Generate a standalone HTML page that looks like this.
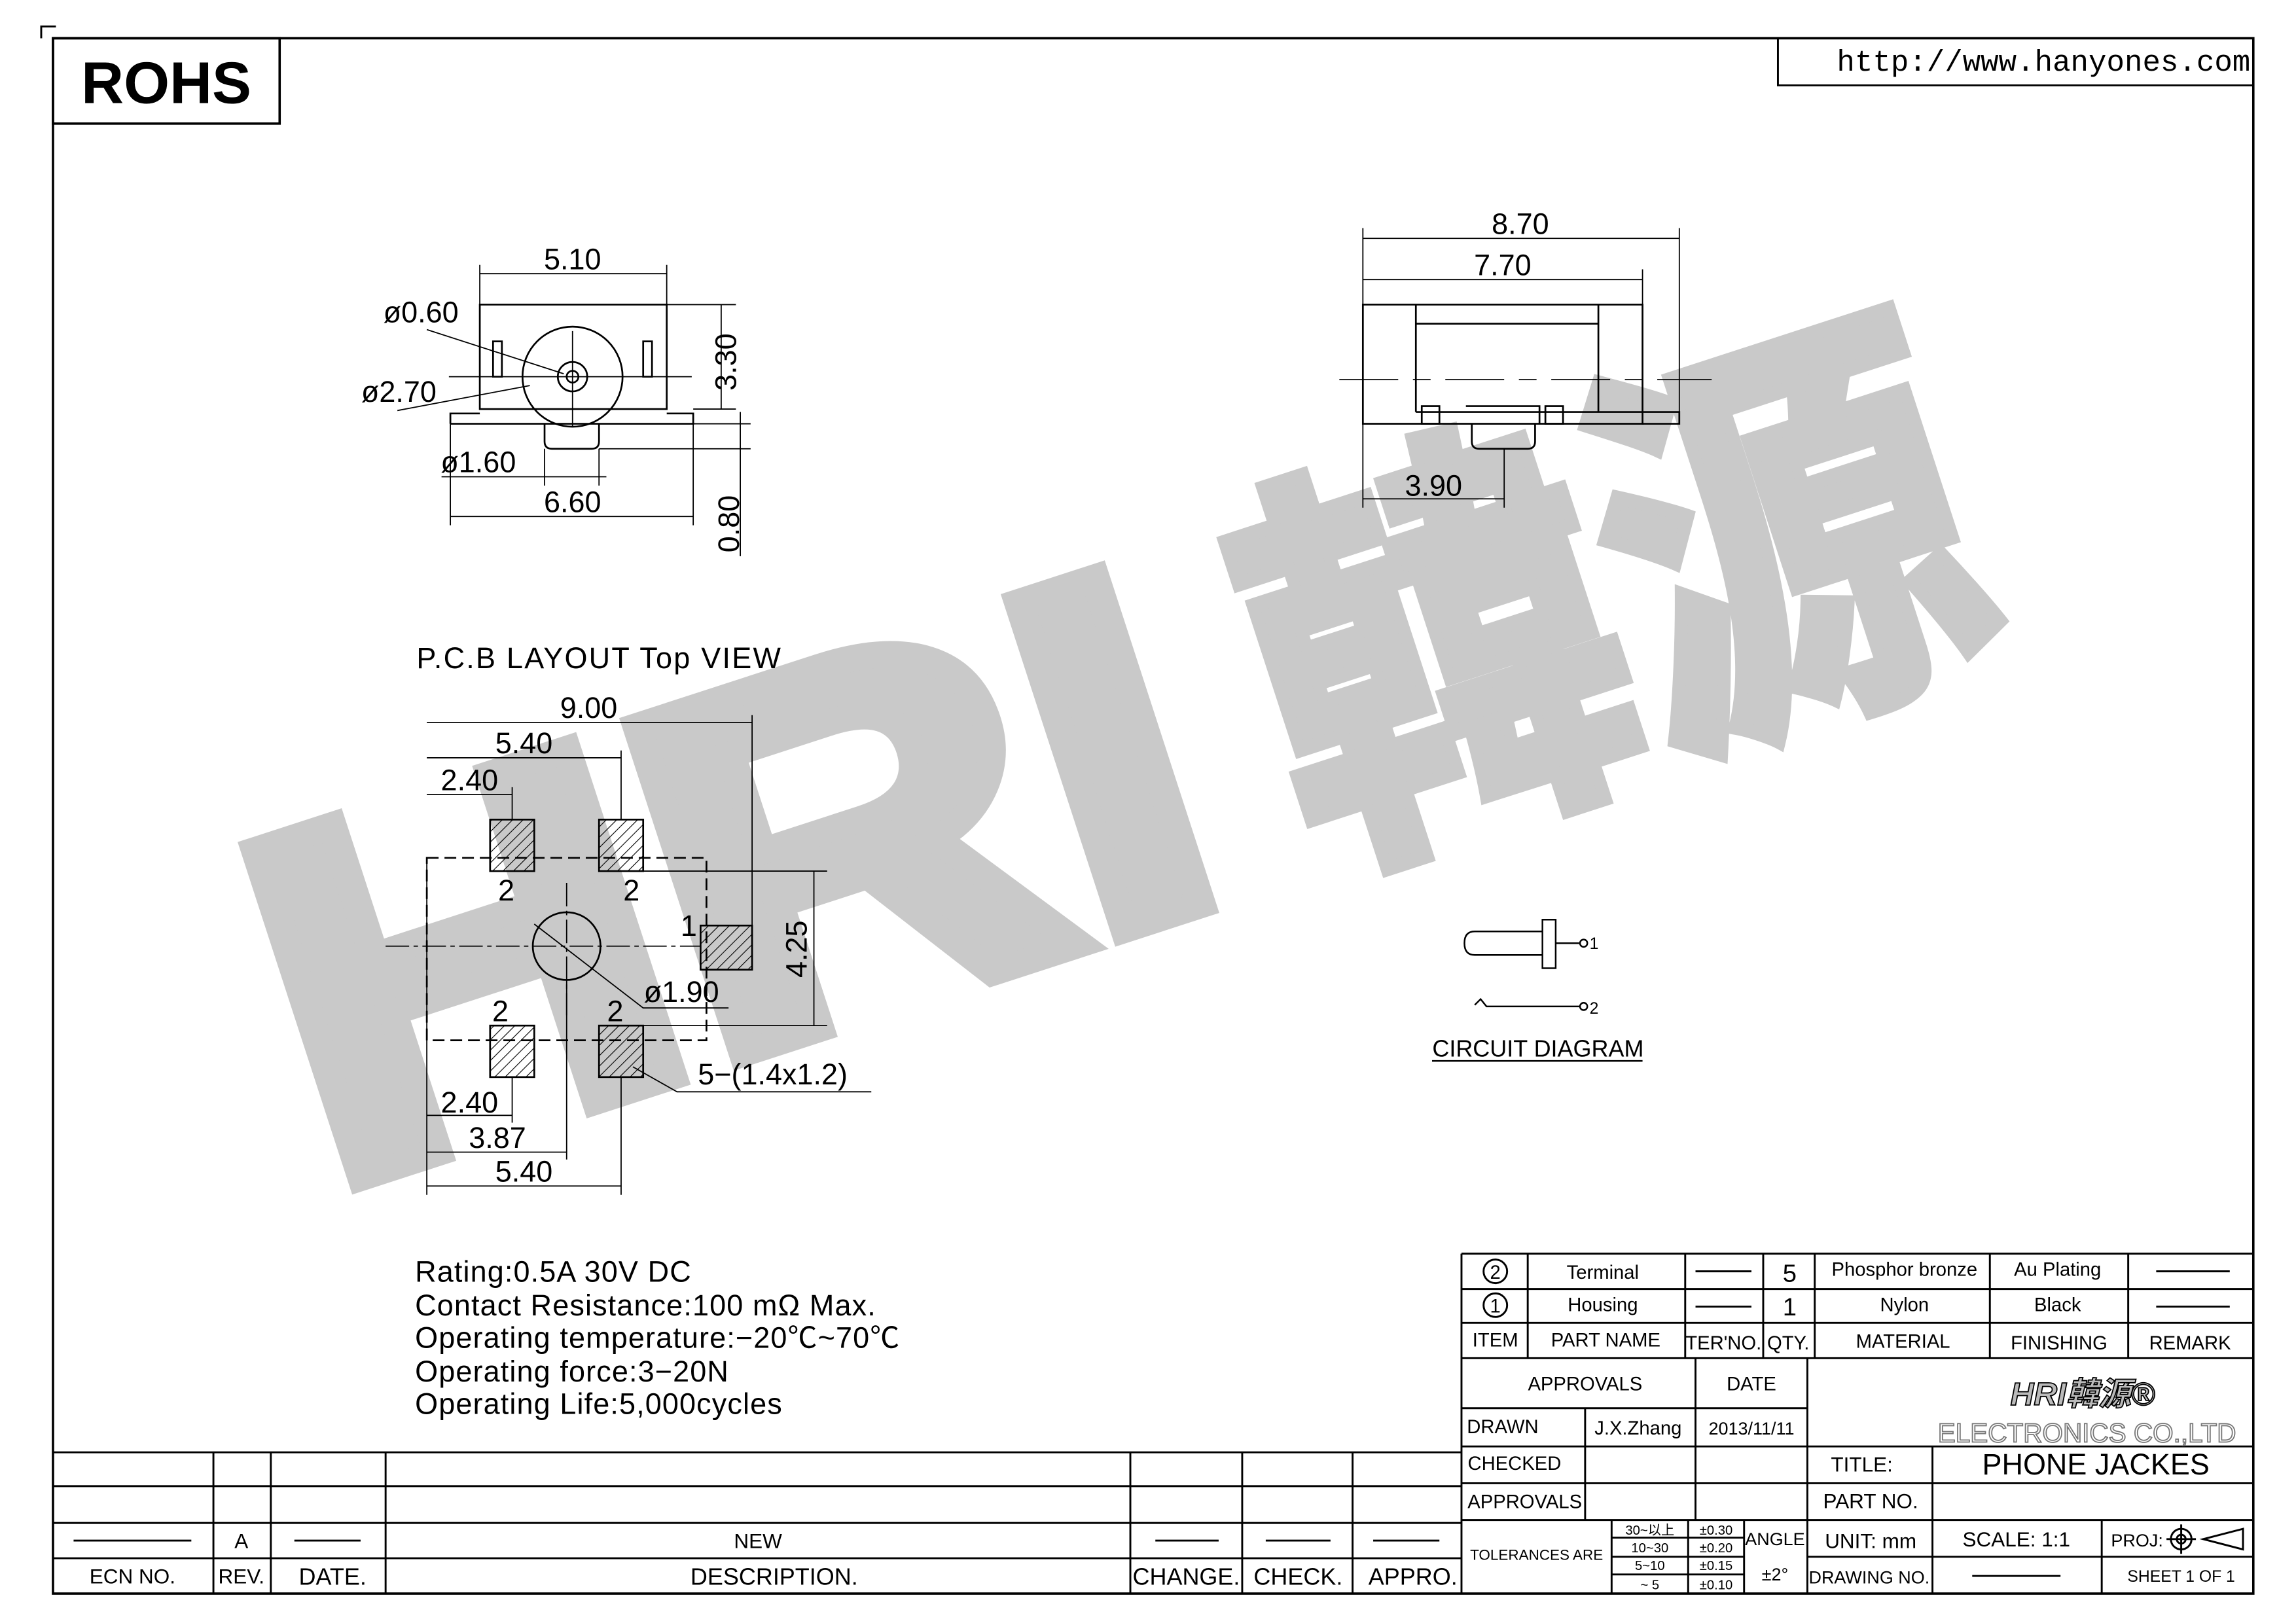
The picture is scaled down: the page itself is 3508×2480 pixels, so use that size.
<!DOCTYPE html>
<html><head><meta charset="utf-8"><style>
html,body{margin:0;padding:0;background:#fff;}
svg{display:block;}
text{font-family:"Liberation Sans","Noto Sans CJK SC",sans-serif;fill:#000;}
</style></head><body>
<svg width="3508" height="2480" viewBox="0 0 1560 1103" preserveAspectRatio="none" xmlns="http://www.w3.org/2000/svg">
<defs>
<pattern id="h" width="5" height="5" patternUnits="userSpaceOnUse" patternTransform="rotate(45)"><line x1="0" y1="0" x2="0" y2="5" stroke="#000" stroke-width="1"/></pattern>
</defs>
<rect width="1560" height="1103" fill="#fff"/>
<!-- watermark -->
<g transform="translate(222,808) rotate(-18)">
<text x="0" y="0" font-size="340" font-weight="bold" style="fill:#c9c9c9;stroke:#c9c9c9;stroke-width:18;stroke-linejoin:miter;font-weight:bold" textLength="650" lengthAdjust="spacingAndGlyphs">HRI</text>
<text x="705" y="-10" font-size="290" font-weight="bold" style="fill:#c9c9c9;stroke:#c9c9c9;stroke-width:10;font-weight:bold" textLength="500" lengthAdjust="spacingAndGlyphs">韓源</text>
</g>
<g fill="none" stroke="#000" stroke-width="1.3">
<path d="M28 26V18H38"/>
<rect x="36" y="26" width="1495" height="1057" stroke-width="1.6"/>
<rect x="36" y="26" width="154" height="58" stroke-width="1.6"/>
<path d="M1208 26V58H1531"/>
</g>
<text x="113" y="70" font-size="40" font-weight="bold" text-anchor="middle">ROHS</text>
<text x="1248" y="48" font-size="20" textLength="281" lengthAdjust="spacingAndGlyphs" style="font-family:'Liberation Mono',monospace">http://www.hanyones.com</text>

<!-- top-left view -->
<g fill="none" stroke="#000" stroke-width="1.2">
<rect x="326" y="207" width="127" height="71"/>
<path d="M306 288V281H326M453 281H471V288H306"/>
<path d="M370 288V300Q370 305 375 305H402Q407 305 407 300V288"/>
<circle cx="389" cy="256" r="34"/><circle cx="389" cy="256" r="10"/><circle cx="389" cy="256" r="4"/>
<rect x="335" y="232" width="6" height="24"/><rect x="437" y="232" width="6" height="24"/>
<path d="M326 207V180M453 207V180M326 186H453" stroke-width="0.8"/>
<path d="M453 207H500M471 278H500M490 207V278" stroke-width="0.8"/>
<path d="M306 288V357M471 288V357M306 351H471" stroke-width="0.8"/>
<path d="M370 305V330M407 305V330M300 324H412" stroke-width="0.8"/>
<path d="M471 288H510M407 305H510M503 280V378" stroke-width="0.8"/>
<path d="M290 224L383 254M270 279L360 262" stroke-width="0.8"/>
<path d="M305 256H470M389 225V290" stroke-width="0.8"/>
</g>
<g font-size="20">
<text x="389" y="183" text-anchor="middle">5.10</text>
<text x="286" y="219" text-anchor="middle">ø0.60</text>
<text x="271" y="273" text-anchor="middle">ø2.70</text>
<text x="325" y="321" text-anchor="middle">ø1.60</text>
<text x="389" y="348" text-anchor="middle">6.60</text>
<text transform="translate(500,246) rotate(-90)" text-anchor="middle">3.30</text>
<text transform="translate(502,356) rotate(-90)" text-anchor="middle">0.80</text>
</g>

<!-- side view -->
<g fill="none" stroke="#000" stroke-width="1.2">
<rect x="926" y="207" width="190" height="81"/>
<path d="M962 207V220H1086V207M962 220V280M1086 220V280"/>
<path d="M962 280H1116M1116 280H1141V288H1116"/>
<rect x="966" y="276" width="12" height="12"/><rect x="1050" y="276" width="12" height="12"/>
<path d="M1000 288V300Q1000 305 1005 305H1038Q1043 305 1043 300V288M996 276H1046V288"/>
<path d="M926 207V155M1141 280V155M926 162H1141M1116 207V183M926 190H1116" stroke-width="0.8"/>
<path d="M926 288V345M1022 305V345M926 339H1022" stroke-width="0.8"/>
<path d="M910 258H1163" stroke-width="0.8" stroke-dasharray="40 10 12 10"/>
</g>
<g font-size="20">
<text x="1033" y="159" text-anchor="middle">8.70</text>
<text x="1021" y="187" text-anchor="middle">7.70</text>
<text x="974" y="337" text-anchor="middle">3.90</text>
</g>

<!-- PCB -->
<text x="283" y="454" font-size="20" letter-spacing="1">P.C.B  LAYOUT  Top  VIEW</text>
<g stroke="#000" stroke-width="1.2">
<rect x="290" y="583" width="190" height="124" fill="none" stroke-dasharray="8 4"/>
<rect x="333" y="557" width="30" height="35" fill="url(#h)"/>
<rect x="407" y="557" width="30" height="35" fill="url(#h)"/>
<rect x="333" y="697" width="30" height="35" fill="url(#h)"/>
<rect x="407" y="697" width="30" height="35" fill="url(#h)"/>
<rect x="476" y="629" width="35" height="30" fill="url(#h)"/>
<circle cx="385" cy="643" r="23" fill="none"/>
<g fill="none" stroke-width="0.8">
<path d="M262 643H476M385 600V690" stroke-dasharray="16 3 3 3"/>
<path d="M290 583V812M511 629V486M290 491H511M422 557V510M290 515H422M348 557V535M290 540H348"/>
<path d="M422 592H562M511 697H562M437 697H511M553 592V697"/>
<path d="M348 732V763M290 758H348M385 666V788M290 783H385M422 732V812M290 806H422"/>
<path d="M363 628L437 685H495M430 725L460 742H592"/>
</g>
</g>
<g font-size="20">
<text x="400" y="488" text-anchor="middle">9.00</text>
<text x="356" y="512" text-anchor="middle">5.40</text>
<text x="319" y="537" text-anchor="middle">2.40</text>
<text transform="translate(548,645) rotate(-90)" text-anchor="middle">4.25</text>
<text x="463" y="681" text-anchor="middle">ø1.90</text>
<text x="525" y="737" text-anchor="middle">5−(1.4x1.2)</text>
<text x="319" y="756" text-anchor="middle">2.40</text>
<text x="338" y="780" text-anchor="middle">3.87</text>
<text x="356" y="803" text-anchor="middle">5.40</text>
<text x="344" y="612" text-anchor="middle">2</text><text x="429" y="612" text-anchor="middle">2</text>
<text x="468" y="636" text-anchor="middle">1</text>
<text x="340" y="694" text-anchor="middle">2</text><text x="418" y="694" text-anchor="middle">2</text>
</g>

<!-- circuit -->
<g fill="none" stroke="#000" stroke-width="1.1">
<path d="M1048 633H1002Q995 633 995 641Q995 649 1002 649H1048"/>
<rect x="1048" y="625" width="9" height="33"/>
<path d="M1057 641H1073"/><circle cx="1076" cy="641" r="2.5"/>
<path d="M1002 683L1006 679L1010 684H1073"/><circle cx="1076" cy="684" r="2.5"/>
<path d="M973 721H1116"/>
</g>
<text x="1080" y="645" font-size="11">1</text><text x="1080" y="689" font-size="11">2</text>
<text x="1045" y="718" font-size="16" text-anchor="middle">CIRCUIT  DIAGRAM</text>

<!-- specs -->
<g font-size="20" letter-spacing="0.5">
<text x="282" y="871">Rating:0.5A  30V  DC</text>
<text x="282" y="894">Contact  Resistance:100  mΩ  Max.</text>
<text x="282" y="916">Operating  temperature:−20℃~70℃</text>
<text x="282" y="939">Operating  force:3−20N</text>
<text x="282" y="961">Operating  Life:5,000cycles</text>
</g>

<!-- revision table -->
<g fill="none" stroke="#000" stroke-width="1.3">
<path d="M36 987H993M36 1010H993M36 1035H993M36 1059H993"/>
<path d="M145 987V1083M184 987V1083M262 987V1083M768 987V1083M844 987V1083M919 987V1083M993 852V1083"/>
<path d="M50 1047H130M200 1047H245M785 1047H828M860 1047H904M933 1047H978"/>
</g>
<g font-size="14" text-anchor="middle">
<text x="164" y="1052">A</text><text x="515" y="1052">NEW</text>
<text x="90" y="1076">ECN  NO.</text><text x="164" y="1076">REV.</text><text x="226" y="1077" font-size="16">DATE.</text>
<text x="526" y="1077" font-size="16">DESCRIPTION.</text><text x="806" y="1077" font-size="16">CHANGE.</text>
<text x="882" y="1077" font-size="16">CHECK.</text><text x="960" y="1077" font-size="16">APPRO.</text>
</g>

<!-- title block -->
<g fill="none" stroke="#000" stroke-width="1.3">
<path d="M993 852H1531M993 876H1531M993 899H1531M993 923H1531M993 957H1228M993 983H1531M993 1008H1531M993 1033H1531M1228 1058H1531"/>
<path d="M1038 852V923M1145 852V923M1198 852V923M1233 852V923M1352 852V923M1446 852V923"/>
<path d="M1077 957V1033M1152 923V1033M1228 923V1083M1313 983V1083M1428 1033V1083"/>
<path d="M1095 1033V1083M1147 1033V1083M1185 1033V1083M1095 1045H1185M1095 1058H1185M1095 1070H1185"/>
<path d="M1152 864H1190M1152 888H1190M1465 864H1515M1465 888H1515M1340 1071H1400"/>
<circle cx="1016" cy="864" r="8"/><circle cx="1016" cy="887" r="8"/>
<circle cx="1482" cy="1046" r="7"/><circle cx="1482" cy="1046" r="3"/><path d="M1472 1046H1492M1482 1036V1056M1497 1046L1524 1039V1053Z"/>
</g>
<g font-size="13" text-anchor="middle">
<text x="1016" y="869" font-size="13">2</text><text x="1016" y="892">1</text>
<text x="1089" y="869">Terminal</text><text x="1216" y="871" font-size="17">5</text>
<text x="1294" y="867">Phosphor bronze</text><text x="1398" y="867">Au Plating</text>
<text x="1089" y="891">Housing</text><text x="1216" y="894" font-size="17">1</text>
<text x="1294" y="891">Nylon</text><text x="1398" y="891">Black</text>
<text x="1016" y="915">ITEM</text><text x="1091" y="915">PART  NAME</text><text x="1171" y="917">TER'NO.</text>
<text x="1215" y="917">QTY.</text><text x="1293" y="916">MATERIAL</text><text x="1399" y="917">FINISHING</text><text x="1488" y="917">REMARK</text>
<text x="1077" y="945">APPROVALS</text><text x="1190" y="945">DATE</text>
<text x="1021" y="974">DRAWN</text><text x="1113" y="975">J.X.Zhang</text><text x="1190" y="975" font-size="12">2013/11/11</text>
<text x="1029" y="999">CHECKED</text><text x="1036" y="1025">APPROVALS</text>
<text x="1044" y="1060" font-size="10">TOLERANCES  ARE</text>
<g font-size="9"><text x="1121" y="1043">30~以上</text><text x="1121" y="1055">10~30</text><text x="1121" y="1067">5~10</text><text x="1121" y="1080">~ 5</text>
<text x="1166" y="1043">±0.30</text><text x="1166" y="1055">±0.20</text><text x="1166" y="1067">±0.15</text><text x="1166" y="1080">±0.10</text></g>
<text x="1206" y="1050" font-size="12">ANGLE</text><text x="1206" y="1074" font-size="12">±2°</text>
<text x="1265" y="1000" font-size="14">TITLE:</text><text x="1424" y="1002" font-size="20">PHONE  JACKES</text>
<text x="1271" y="1025" font-size="14">PART  NO.</text>
<text x="1271" y="1052" font-size="14">UNIT:  mm</text><text x="1370" y="1051" font-size="14">SCALE:   1:1</text>
<text x="1452" y="1051" font-size="12">PROJ:</text>
<text x="1270" y="1076" font-size="12">DRAWING  NO.</text><text x="1482" y="1075" font-size="11">SHEET   1  OF  1</text>
<text x="1418" y="980" font-size="18" style="fill:#fff;stroke:#777;stroke-width:0.8">ELECTRONICS  CO.,LTD</text>
<text x="1415" y="955" font-size="22" font-weight="bold" font-style="italic" style="fill:#bbb;stroke:#000;stroke-width:0.8">HRI韓源®</text>
</g>
</svg>
</body></html>
